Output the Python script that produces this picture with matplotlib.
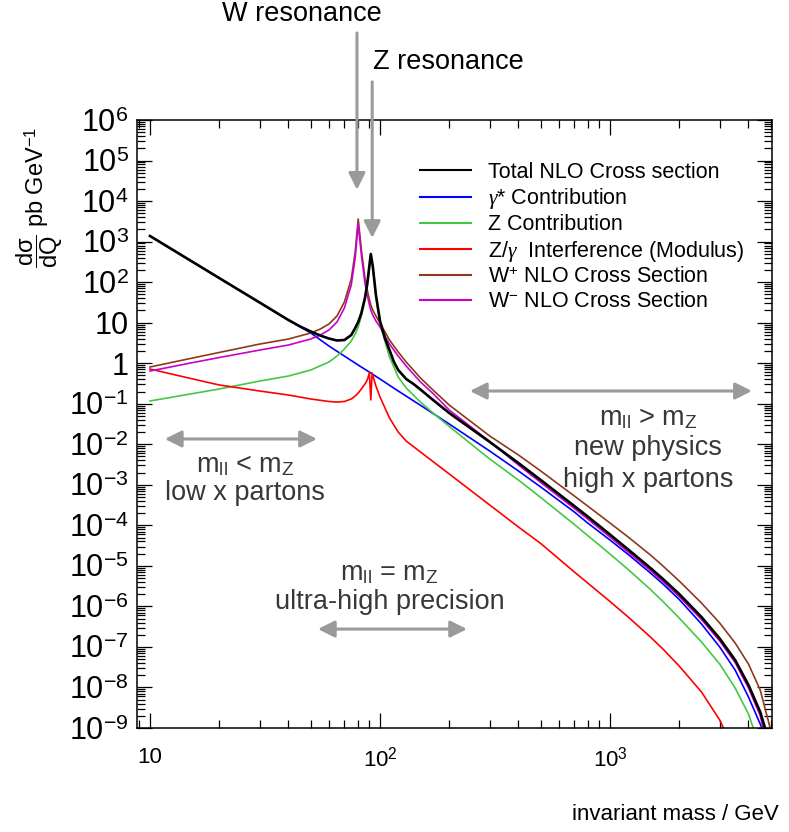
import matplotlib
matplotlib.use("Agg")
import matplotlib.pyplot as plt
from matplotlib.ticker import LogLocator, FuncFormatter, NullFormatter
import numpy as np

# values, cross sections in pb/GeV
mass_total = [10, 15, 20, 30, 40, 45, 50, 55, 60, 65, 70, 75, 78, 80.4, 83, 86, 88, 90, 91.2, 93, 96, 100,
              105, 110, 115, 120, 130, 140, 150, 170, 200, 300, 400, 500, 700, 800, 1000, 1200, 1500, 1700,
              2000, 2500, 3000, 3500, 4000, 4500, 4720]
xs_total = [1375, 340, 126, 31.3, 11.6, 8.04, 6.05, 4.82, 4.06, 3.63, 3.73, 4.95, 7.38, 10.4, 17.3, 40.6, 90.0, 264, 494, 250, 48.1, 11.0,
            4.18, 2.11, 1.07, 0.679, 0.407, 0.306, 0.224, 0.124, 0.0590, 0.0114, 3.44e-3, 1.31e-3, 2.99e-4, 1.65e-4, 5.93e-5, 2.53e-5, 8.83e-6, 4.73e-6,
            2.02e-6, 5.46e-7, 1.61e-7, 4.75e-8, 1.15e-8, 2.48e-9, 1.0e-9]

mass_gamma = [10, 15, 20, 30, 40, 50, 60, 70, 80.4, 91.2, 100, 120, 150, 200, 300, 400, 500, 700, 800,
              1000, 1200, 1500, 1700, 2000, 2500, 3000, 3500, 4000, 4500, 4570]
xs_gamma = [1375, 340, 126, 31.3, 11.6, 5.56, 2.65, 1.50, 0.90, 0.573, 0.407, 0.206, 0.0914, 0.0316, 6.81e-3, 2.19e-3, 8.81e-4, 2.13e-4, 1.14e-4,
            4.34e-5, 1.91e-5, 6.65e-6, 3.56e-6, 1.48e-6, 3.67e-7, 9.93e-8, 2.69e-8, 5.81e-9, 1.25e-9, 1.0e-9]

mass_z = [10, 15, 20, 30, 40, 50, 60, 65, 70, 75, 78, 80.4, 83, 86, 88, 90, 91.2, 93, 96, 100,
          110, 120, 130, 150, 170, 200, 300, 400, 500, 700, 800, 1000, 1200, 1500, 1700,
          2000, 2500, 3000, 3500, 4000, 4197]
xs_z = [0.117, 0.174, 0.231, 0.363, 0.483, 0.679, 1.07, 1.50, 2.24, 3.52, 5.25, 7.82, 14.6, 36.2, 80.2, 236, 467, 236, 45.5, 9.27,
        1.42, 0.456, 0.244, 0.110, 0.0590, 0.0275, 4.33e-3, 1.31e-3, 4.85e-4, 1.05e-4, 5.60e-5, 1.96e-5, 8.11e-6, 2.61e-6, 1.32e-6,
        5.16e-7, 1.32e-7, 3.78e-8, 9.68e-9, 2.21e-9, 1.0e-9]

mass_interf = [10, 15, 20, 30, 40, 50, 60, 65, 70, 75, 78, 80.4, 83, 86, 88, 89.9, 91.2, 92.4, 96, 100,
               110, 120, 130, 150, 200, 300, 400, 500, 700, 800, 1000, 1200, 1500, 1700, 2000, 2500, 3000, 3112]
xs_interf = [0.718, 0.421, 0.290, 0.206, 0.164, 0.131, 0.1135, 0.110, 0.1135, 0.131, 0.155, 0.184, 0.231, 0.306, 0.385, 0.573, 0.124, 0.573, 0.274, 0.147,
             0.0444, 0.0200, 0.0120, 6.44e-3, 1.85e-3, 3.17e-4, 9.08e-5, 3.56e-5, 7.05e-6, 3.77e-6, 1.32e-6, 5.46e-7, 1.75e-7, 8.87e-8, 3.37e-8,
             7.71e-9, 1.57e-9, 1.0e-9]

mass_wplus = [10, 15, 20, 30, 40, 50, 55, 60, 65, 70, 75, 78, 80.4, 83, 86, 88, 90, 91.2, 93, 96, 100,
              110, 120, 130, 150, 170, 200, 300, 400, 500, 700, 800, 1000, 1200, 1500, 1700,
              2000, 2500, 3000, 3500, 4000, 4500, 4970]
xs_wplus = [0.805, 1.31, 1.84, 2.97, 3.95, 5.56, 6.97, 9.27, 14.6, 32.3, 119, 553, 3610, 621, 126, 64.0, 36.2, 27.3, 20.5, 14.6, 9.79,
            3.73, 1.89, 1.07, 0.431, 0.218, 0.0929, 0.0160, 5.43e-3, 2.19e-3, 5.28e-4, 2.99e-4, 1.14e-4, 5.14e-5, 1.85e-5, 9.91e-6,
            4.23e-6, 1.21e-6, 3.88e-7, 1.25e-7, 3.78e-8, 8.63e-9, 1.0e-9]

mass_wminus = [10, 15, 20, 30, 40, 50, 55, 60, 65, 70, 75, 78, 80.4, 83, 86, 88, 90, 91.2, 93, 96, 100,
               110, 120, 130, 150, 170, 200, 300, 400, 500, 700, 800, 1000, 1200, 1500, 1700,
               2000, 2500, 3000, 3500, 4000, 4500, 4625]
xs_wminus = [0.641, 1.01, 1.38, 2.11, 2.81, 3.95, 4.95, 6.59, 10.4, 23.0, 84.9, 394, 2720, 467, 95.1, 48.1, 27.3, 20.5, 15.5, 11.0, 7.82,
             2.97, 1.50, 0.851, 0.344, 0.179, 0.0700, 0.0117, 3.08e-3, 1.14e-3, 2.60e-4, 1.43e-4, 5.14e-5, 2.19e-5, 7.67e-6, 4.10e-6,
             1.75e-6, 4.74e-7, 1.40e-7, 4.12e-8, 9.68e-9, 2.03e-9, 1.0e-9]

labels = ["Total NLO Cross section", r"$\gamma$* Contribution", "Z Contribution",
          r"Z/$\gamma$  Interference (Modulus)", r"W$^{+}$ NLO Cross Section", r"W$^{-}$ NLO Cross Section"]

plt.rcParams["font.family"] = ["Liberation Sans", "DejaVu Sans"]
plt.rcParams["mathtext.fontset"] = "custom"
plt.rcParams["mathtext.rm"] = "Liberation Sans"
plt.rcParams["mathtext.it"] = "Liberation Serif:italic"
plt.rcParams["mathtext.bf"] = "Liberation Sans:bold"

grey = "#9a9a9a"
textgrey = "#383838"

fig = plt.figure(figsize=(7.89, 8.32), dpi=100)
ax = fig.add_axes([137 / 789, 104 / 832, 635 / 789, 608 / 832])

ax.plot(mass_gamma, xs_gamma, color="#0000ff", lw=1.2, label=labels[1])
ax.plot(mass_z, xs_z, color="#44c844", lw=1.2, label=labels[2])
ax.plot(mass_interf, xs_interf, color="#ff0000", lw=1.2, label=labels[3])
ax.plot(mass_wplus, xs_wplus, color="#8b3a1a", lw=1.2, label=labels[4])
ax.plot(mass_wminus, xs_wminus, color="#cc00cc", lw=1.2, label=labels[5])
ax.plot(mass_total, xs_total, color="black", lw=1.9, label=labels[0])

ax.set_xscale("log")
ax.set_yscale("log")
ax.set_xlim(8.78, 5062)
ax.set_ylim(1e-9, 1e6)


def ylab(v, pos):
    e = int(round(np.log10(v)))
    if e == 0:
        return "1"
    if e == 1:
        return "10"
    return r"$10^{%d}$" % e


def xlab(v, pos):
    e = int(round(np.log10(v)))
    if e == 1:
        return "10"
    return r"$10^{%d}$" % e


ax.yaxis.set_major_locator(LogLocator(base=10, numticks=40))
ax.yaxis.set_minor_locator(LogLocator(base=10, subs=np.arange(2, 10), numticks=200))
ax.yaxis.set_major_formatter(FuncFormatter(ylab))
ax.yaxis.set_minor_formatter(NullFormatter())
ax.xaxis.set_major_locator(LogLocator(base=10, numticks=20))
ax.xaxis.set_minor_locator(LogLocator(base=10, subs=np.arange(2, 10), numticks=100))
ax.xaxis.set_major_formatter(FuncFormatter(xlab))
ax.xaxis.set_minor_formatter(NullFormatter())

ax.tick_params(which="both", direction="in", top=True, right=True, width=0.9)
ax.tick_params(which="major", length=11)
ax.tick_params(which="minor", length=6)
ax.tick_params(axis="y", which="major", labelsize=22, pad=6)
ax.tick_params(axis="x", which="major", labelsize=16, pad=14)
for s in ax.spines.values():
    s.set_linewidth(1.1)

leg = ax.legend(handles=[ax.lines[5], ax.lines[0], ax.lines[1], ax.lines[2], ax.lines[3], ax.lines[4]],
                loc="upper left", bbox_to_anchor=(420 / 789, 1 - 162 / 832), bbox_transform=fig.transFigure,
                frameon=False, fontsize=15.5, borderpad=0, borderaxespad=0, handlelength=2.35,
                handletextpad=0.8, labelspacing=0.15)
for h in leg.get_lines():
    h.set_linewidth(1.5)

# resonance arrows
head = dict(arrowstyle="-|>,head_length=1.0,head_width=0.5", color=grey, lw=2.2, mutation_scale=10, shrinkA=0, shrinkB=0)
ax.annotate("", xy=(79.4, 1.9e4), xytext=(79.4, 1.4e8), arrowprops=head, annotation_clip=False)
ax.annotate("", xy=(92.5, 1.23e3), xytext=(92.5, 8.7e6), arrowprops=head, annotation_clip=False)
ax.text(45.8, 4.1e8, "W resonance", fontsize=19.5, ha="center", va="center", clip_on=False)
ax.text(198, 2.7e7, "Z resonance", fontsize=19.5, ha="center", va="center", clip_on=False)

# mass regions
both = dict(arrowstyle="<|-|>,head_length=1.0,head_width=0.5", color=grey, lw=2.2, mutation_scale=10, shrinkA=0, shrinkB=0)
ax.annotate("", xy=(11.6, 0.0135), xytext=(53.2, 0.0135), arrowprops=both)
ax.annotate("", xy=(246, 0.206), xytext=(4140, 0.206), arrowprops=both)
ax.annotate("", xy=(53.7, 2.76e-7), xytext=(239, 2.76e-7), arrowprops=both)

fs = 19.5
ax.text(25.9, 3.1e-3, r"m$_{\rm ll}$ < m$_{\rm Z}$", fontsize=fs, color=textgrey, ha="center", va="center")
ax.text(25.9, 6.3e-4, "low x partons", fontsize=fs, color=textgrey, ha="center", va="center")
ax.text(1462, 0.0444, r"m$_{\rm ll}$ > m$_{\rm Z}$", fontsize=fs, color=textgrey, ha="center", va="center")
ax.text(1462, 8.1e-3, "new physics", fontsize=fs, color=textgrey, ha="center", va="center")
ax.text(1462, 1.31e-3, "high x partons", fontsize=fs, color=textgrey, ha="center", va="center")
ax.text(110, 6.65e-6, r"m$_{\rm ll}$ = m$_{\rm Z}$", fontsize=fs, color=textgrey, ha="center", va="center")
ax.text(110, 1.28e-6, "ultra-high precision", fontsize=fs, color=textgrey, ha="center", va="center")

fig.text(40 / 789, 1 - 197 / 832, r"$\dfrac{\mathrm{d\sigma}}{\mathrm{dQ}}$ pb GeV$^{-1}$",
         rotation=90, fontsize=17, ha="center", va="center")
fig.text(779 / 789, 1 - 815 / 832, "invariant mass / GeV", fontsize=16, ha="right", va="center")

fig.savefig("out.png", dpi=100)
